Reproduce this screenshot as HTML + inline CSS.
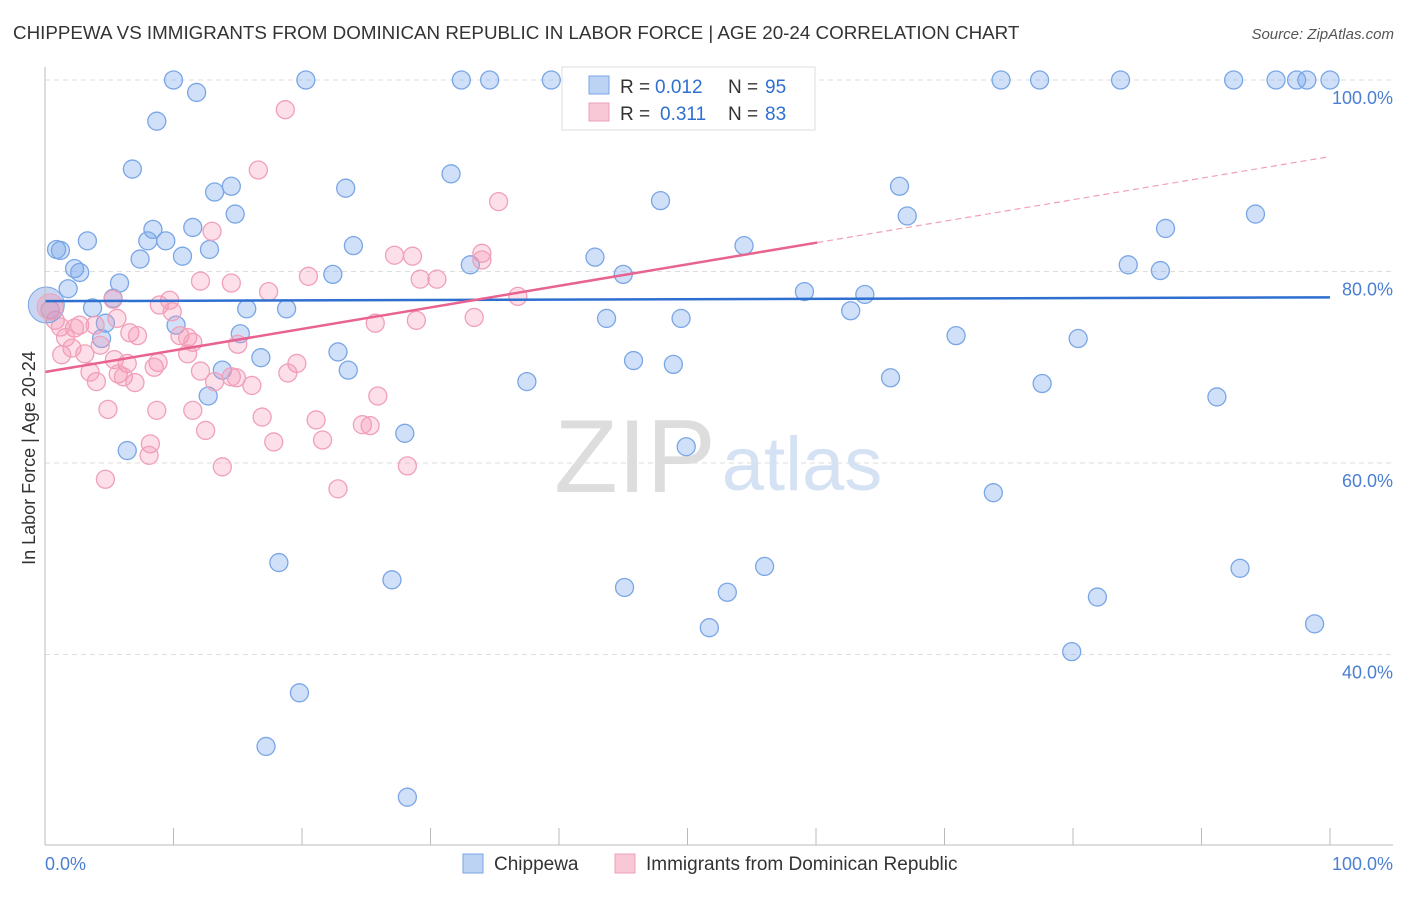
<!DOCTYPE html>
<html><head><meta charset="utf-8"><style>
body{margin:0;background:#fff;font-family:"Liberation Sans",sans-serif;}
svg text{font-family:"Liberation Sans",sans-serif;}
</style></head><body>
<svg id="chart" width="1406" height="892">
<text x="13" y="39" font-size="18.8" fill="#333">CHIPPEWA VS IMMIGRANTS FROM DOMINICAN REPUBLIC IN LABOR FORCE | AGE 20-24 CORRELATION CHART</text>
<text x="1394" y="39" font-size="15" fill="#555" text-anchor="end" font-style="italic">Source: ZipAtlas.com</text>
<g id="grid"></g>
<text x="635" y="492" font-size="104" fill="#ddd" font-family="Liberation Serif" text-anchor="middle">ZIP</text>
<text x="802" y="490" font-size="76" fill="#d4e2f4" text-anchor="middle">atlas</text>
<g id="pts"></g>
<g id="lines"></g>
<line x1="45" y1="67" x2="45" y2="845" stroke="#bbb"/>
<line x1="45" y1="845" x2="1393" y2="845" stroke="#bbb"/>
<text x="35" y="458" font-size="18" fill="#333" text-anchor="middle" transform="rotate(-90 35 458)">In Labor Force | Age 20-24</text>
<text x="45" y="870" font-size="18" fill="#4a7fd4">0.0%</text>
<text x="1393" y="870" font-size="18" fill="#4a7fd4" text-anchor="end">100.0%</text>
<g>
<rect x="562" y="67" width="253" height="63" fill="#fff" stroke="#ddd"/>
<rect x="589" y="76" width="20" height="18" fill="#bcd3f3" stroke="#7aa6e6"/>
<rect x="589" y="103" width="20" height="18" fill="#f9c8d6" stroke="#f0a0b8"/>
<text x="620" y="93" font-size="19" fill="#333">R = </text><text x="655" y="93" font-size="19" fill="#2f6fd0">0.012</text>
<text x="728" y="93" font-size="19" fill="#333">N = </text><text x="765" y="93" font-size="19" fill="#2f6fd0">95</text>
<text x="620" y="120" font-size="19" fill="#333">R = </text><text x="660" y="120" font-size="19" fill="#2f6fd0">0.311</text>
<text x="728" y="120" font-size="19" fill="#333">N = </text><text x="765" y="120" font-size="19" fill="#2f6fd0">83</text>
</g>
<g>
<rect x="463" y="854" width="20" height="19" fill="#bcd3f3" stroke="#7aa6e6"/>
<text x="494" y="870" font-size="19" fill="#333">Chippewa</text>
<rect x="615" y="854" width="20" height="19" fill="#f9c8d6" stroke="#f0a0b8"/>
<text x="646" y="870" font-size="19" fill="#333">Immigrants from Dominican Republic</text>
</g>
</svg>
<script>
const yTicks=[100,80,60,40];
const yTickLabels=["100.0%","80.0%","60.0%","40.0%"];
const xTicks=[0,10,20,30,40,50,60,70,80,90,100];
const blueX=[10.0,20.3,32.4,34.6,39.4,41.6,58.0,74.4,77.4,83.7,92.5,95.8,97.4,98.2,100,11.8,8.7,6.8,31.6,13.2,14.5,23.4,47.9,66.5,67.1,94.2,87.2,14.8,11.5,8.4,8.0,9.4,12.8,10.7,7.4,24.0,42.8,54.4,0.9,1.2,3.3,2.3,2.7,33.1,22.4,45.0,84.3,86.8,5.8,1.8,5.3,3.7,15.7,18.8,59.1,63.8,62.7,43.7,49.5,4.7,10.2,4.4,15.2,70.9,80.4,22.8,16.8,45.8,48.9,23.6,13.8,37.5,65.8,77.6,12.7,91.2,28.0,49.9,6.4,73.8,18.2,27.0,45.1,53.1,56.0,93.0,81.9,51.7,98.8,79.9,19.8,17.2,28.2];
const blueY=[100,100,100,100,100,100,100,100,100,100,100,100,100,100,100,98.7,95.7,90.7,90.2,88.3,88.9,88.7,87.4,88.9,85.8,86.0,84.5,86.0,84.6,84.4,83.2,83.2,82.3,81.6,81.3,82.7,81.5,82.7,82.3,82.2,83.2,80.3,79.9,80.7,79.7,79.7,80.7,80.1,78.8,78.2,77.2,76.2,76.1,76.1,77.9,77.6,75.9,75.1,75.1,74.6,74.4,73.0,73.5,73.3,73.0,71.6,71.0,70.7,70.3,69.7,69.7,68.5,68.9,68.3,67.0,66.9,63.1,61.7,61.3,56.9,49.6,47.8,47.0,46.5,49.2,49.0,46.0,42.8,43.2,40.3,36.0,30.4,25.1];
const pinkX=[18.7,16.6,13.0,35.3,27.2,28.6,34.0,34.0,20.5,12.1,14.5,17.4,29.2,30.5,36.8,5.3,8.9,9.7,9.9,0.4,0.8,1.2,2.3,2.7,5.6,3.9,1.6,2.1,4.3,25.7,28.9,33.4,1.3,3.1,6.6,7.2,10.5,11.1,11.5,15.0,11.1,5.4,6.4,8.8,5.7,8.5,4.0,6.1,7.0,3.5,12.1,13.2,14.5,14.9,16.1,19.6,18.9,25.9,4.9,8.7,11.5,12.5,16.9,21.1,8.2,8.1,17.8,21.6,24.7,25.3,4.7,13.8,22.8,28.2];
const pinkY=[96.9,90.6,84.2,87.3,81.7,81.6,81.9,81.2,79.5,79.0,78.8,77.9,79.2,79.2,77.4,77.1,76.5,77.0,75.8,76.0,74.9,74.2,74.1,74.4,75.1,74.4,73.1,72.0,72.3,74.6,74.9,75.2,71.3,71.4,73.6,73.3,73.3,73.1,72.6,72.4,71.4,70.8,70.4,70.5,69.3,70.0,68.5,69.0,68.4,69.5,69.6,68.5,69.0,68.9,68.1,70.4,69.4,67.0,65.6,65.5,65.5,63.4,64.8,64.5,62.0,60.8,62.2,62.4,64.0,63.9,58.3,59.6,57.3,59.7];
const blueTrend=[76.9,77.3];
const pinkTrend=[69.5,92.0];
const pinkSolidEnd=60.1;
const NS="http://www.w3.org/2000/svg";
const sx=v=>45+v*12.85;
const sy=v=>80+(100-v)*9.575;
function mk(tag,attrs,parent){const e=document.createElementNS(NS,tag);for(const k in attrs)e.setAttribute(k,attrs[k]);parent.appendChild(e);return e;}
const grid=document.getElementById('grid');
yTicks.forEach((t,i)=>{
 const l=mk('line',{x1:45,x2:1393,y1:sy(t),y2:sy(t),stroke:'#ddd','stroke-dasharray':'5,4'},grid);
 
 
 const tx=mk('text',{x:1393,y:sy(t)+24,'font-size':18,fill:'#4a7fd4','text-anchor':'end'},grid);
 tx.textContent=yTickLabels[i];
 
 
});
xTicks.forEach(t=>{
 const l=mk('line',{x1:sx(t),x2:sx(t),y1:828,y2:845,stroke:'#bbb'},grid);
 
 
});
const pts=document.getElementById('pts');
blueX.forEach((x,i)=>{
 const c=mk('circle',{cx:sx(x),cy:sy(blueY[i]),r:9,fill:'rgba(120,165,235,0.35)',stroke:'#7aa6e6','stroke-width':1.3},pts);
 
 
});
pinkX.forEach((x,i)=>{
 const c=mk('circle',{cx:sx(x),cy:sy(pinkY[i]),r:9,fill:'rgba(245,150,180,0.3)',stroke:'#f0a0b8','stroke-width':1.3},pts);
 
 
});
const b1=mk('circle',{cx:sx(0.1),cy:sy(76.5),r:18,fill:'rgba(120,150,220,0.4)',stroke:'#7aa6e6'},pts);


const b2=mk('circle',{cx:sx(0.4),cy:sy(76.3),r:13,fill:'rgba(245,150,180,0.35)',stroke:'#f0a0b8'},pts);


const lines=document.getElementById('lines');
const bl=mk('line',{x1:sx(0),y1:sy(blueTrend[0]),x2:sx(100),y2:sy(blueTrend[1]),stroke:'#2f6fd0','stroke-width':2.5},lines);


const pm=pinkTrend[0]+(pinkTrend[1]-pinkTrend[0])*pinkSolidEnd/100;
const pl=mk('line',{x1:sx(0),y1:sy(pinkTrend[0]),x2:sx(pinkSolidEnd),y2:sy(pm),stroke:'#e8638f','stroke-width':2.5},lines);


const pd=mk('line',{x1:sx(pinkSolidEnd),y1:sy(pm),x2:sx(100),y2:sy(pinkTrend[1]),stroke:'#f0a0b8','stroke-width':1.2,'stroke-dasharray':'6,4'},lines);


</script>
</body></html>
